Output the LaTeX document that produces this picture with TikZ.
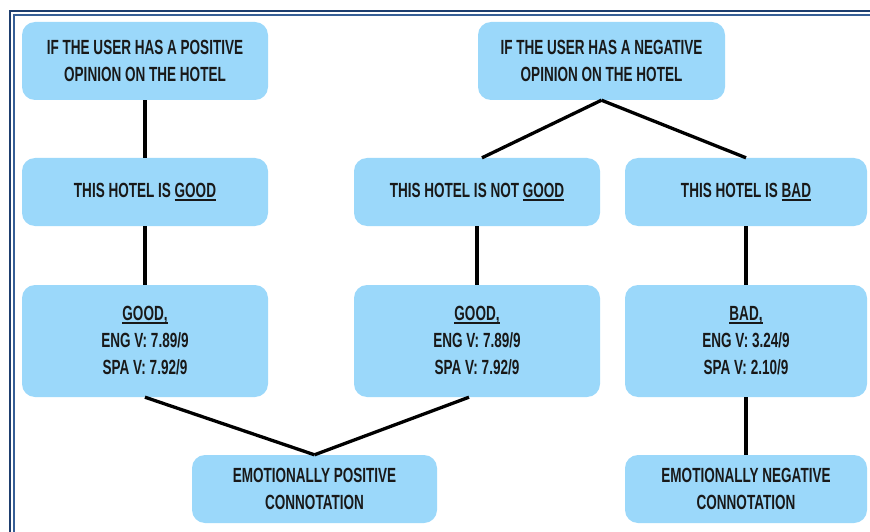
\documentclass[tikz,border=0pt]{standalone}
\usepackage{fontspec}
\setmainfont{Liberation Sans}[FakeStretch=0.66]
\usepackage{tikz}
\definecolor{boxblue}{RGB}{155,216,250}
\definecolor{framenavy}{RGB}{30,62,110}
\definecolor{frameblue}{RGB}{55,95,150}
\newcommand{\ulword}[1]{\setbox0\hbox{#1}\rlap{\rule[-3pt]{\wd0}{1.7pt}}\box0}

\begin{document}
\begin{tikzpicture}[x=1pt, y=-1pt,
    card/.style={rectangle, rounded corners=13pt, fill=boxblue, align=center,
        font=\fontsize{20.5}{27}\selectfont\bfseries, text=black!90,
        minimum width=246pt, inner sep=0pt},
    link/.style={line width=3.3pt, black}]
    \useasboundingbox (0,0) rectangle (870,532);
    \clip (0,0) rectangle (870,532);
    % frame
    \draw[framenavy, line width=2pt] (10,11) rectangle (885,545);
    \draw[frameblue, line width=1.2pt] (14,15) rectangle (881,541);

    \node[card, minimum height=78pt] (pos) at (145,61)
        {IF THE USER HAS A POSITIVE\\OPINION ON THE HOTEL};
    \node[card, minimum height=78pt, minimum width=247pt] (neg) at (601.5,61)
        {IF THE USER HAS A NEGATIVE\\OPINION ON THE HOTEL};

    \node[card, minimum height=68pt] (good) at (145,192) {THIS HOTEL IS \ulword{GOOD}};
    \node[card, minimum height=68pt] (notgood) at (477,192) {THIS HOTEL IS NOT \ulword{GOOD}};
    \node[card, minimum height=68pt, minimum width=242pt] (bad) at (746,192) {THIS HOTEL IS \ulword{BAD}};

    \node[card, minimum height=112pt] (goodval) at (145,341)
        {\ulword{GOOD,}\\ENG V: 7.89/9\\SPA V: 7.92/9};
    \node[card, minimum height=112pt] (notgoodval) at (477,341)
        {\ulword{GOOD,}\\ENG V: 7.89/9\\SPA V: 7.92/9};
    \node[card, minimum height=112pt, minimum width=242pt] (badval) at (746,341)
        {\ulword{BAD,}\\ENG V: 3.24/9\\SPA V: 2.10/9};

    \node[card, minimum height=68pt, minimum width=245pt] (posconn) at (314.5,489)
        {EMOTIONALLY POSITIVE\\CONNOTATION};
    \node[card, minimum height=68pt, minimum width=242pt] (negconn) at (746,489)
        {EMOTIONALLY NEGATIVE\\CONNOTATION};

    \draw[link] (pos.south) -- (good.north);
    \draw[link] (neg.south) -- ([xshift=5pt]notgood.north);
    \draw[link] (neg.south) -- (bad.north);
    \draw[link] (good.south) -- (goodval.north);
    \draw[link] (notgood.south) -- (notgoodval.north);
    \draw[link] (bad.south) -- (badval.north);
    \draw[link] (goodval.south) -- (posconn.north);
    \draw[link] ([xshift=-8pt]notgoodval.south) -- (posconn.north);
    \draw[link] (badval.south) -- (negconn.north);
\end{tikzpicture}
\end{document}
